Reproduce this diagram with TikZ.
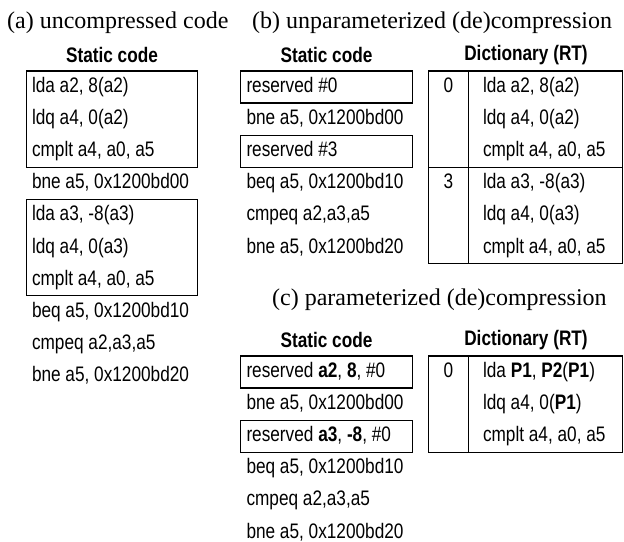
\documentclass[tikz,border=0pt]{standalone}
\usepackage{fontspec}
\setmainfont{Liberation Serif}
\newfontfamily\narrowsf{Liberation Sans}[FakeStretch=0.82]
\usepackage{tikz}
\usetikzlibrary{positioning,fit}

\begin{document}
\begin{tikzpicture}[
    x=1pt, y=-1pt,
    title/.style={anchor=west, inner sep=0pt, font=\fontsize{24}{29}\selectfont},
    header/.style={inner sep=0pt, font=\narrowsf\bfseries\fontsize{21}{25}\selectfont},
    codefont/.style={
        inner sep=0pt, text height=15pt, text depth=4pt, minimum height=31.7pt,
        font=\narrowsf\fontsize{21}{25}\selectfont
    },
    codeline/.style={codefont,
        execute at begin node={\hbox to 160pt\bgroup},
        execute at end node={\hss\egroup}},
    dictline/.style={codefont,
        execute at begin node={\hbox to 139.5pt\bgroup},
        execute at end node={\hss\egroup}},
    dictkey/.style={codefont, minimum width=39pt},
    codebox/.style={draw, line width=1.3pt, inner xsep=5.5pt, inner ysep=0pt},
    dictbox/.style={codebox, inner xsep=0pt},
    rule/.style={line width=1.3pt}
]
    \useasboundingbox (0,0) rectangle (624,541);

    % (a) uncompressed code
    \node[title] (a-title) at (7,23) {(a) uncompressed code};
    \node[header] (a-head) at (112,55.2) {Static code};
    \node[codeline] (a-l0) at (112,87) {lda a2, 8(a2)};
    \node[codeline, below=0pt of a-l0] (a-l1) {ldq a4, 0(a2)};
    \node[codeline, below=0pt of a-l1] (a-l2) {cmplt a4, a0, a5};
    \node[codeline, below=0pt of a-l2] (a-l3) {bne a5, 0x1200bd00};
    \node[codeline, below=0pt of a-l3] (a-l4) {lda a3, -8(a3)};
    \node[codeline, below=0pt of a-l4] (a-l5) {ldq a4, 0(a3)};
    \node[codeline, below=0pt of a-l5] (a-l6) {cmplt a4, a0, a5};
    \node[codeline, below=0pt of a-l6] (a-l7) {beq a5, 0x1200bd10};
    \node[codeline, below=0pt of a-l7] (a-l8) {cmpeq a2,a3,a5};
    \node[codeline, below=0pt of a-l8] (a-l9) {bne a5, 0x1200bd20};
    \node[codebox, fit=(a-l0)(a-l2)] (a-box0) {};
    \node[codebox, fit=(a-l4)(a-l6)] (a-box1) {};

    % (b) unparameterized (de)compression
    \node[title] (b-title) at (252,23) {(b) unparameterized (de)compression};
    \node[header] (b-head) at (326.5,55.2) {Static code};
    \node[codeline] (b-l0) at (326.5,87) {reserved \#0};
    \node[codeline, below=0pt of b-l0] (b-l1) {bne a5, 0x1200bd00};
    \node[codeline, below=0pt of b-l1] (b-l2) {reserved \#3};
    \node[codeline, below=0pt of b-l2] (b-l3) {beq a5, 0x1200bd10};
    \node[codeline, below=0pt of b-l3] (b-l4) {cmpeq a2,a3,a5};
    \node[codeline, below=0pt of b-l4] (b-l5) {bne a5, 0x1200bd20};
    \node[codebox, fit=(b-l0)] (b-box0) {};
    \node[codebox, fit=(b-l2)] (b-box1) {};

    \node[header] (b-dhead) at (526,55.2) {Dictionary (RT)};
    \node[dictline] (b-d0) at (552.75,87) {lda a2, 8(a2)};
    \node[dictline, below=0pt of b-d0] (b-d1) {ldq a4, 0(a2)};
    \node[dictline, below=0pt of b-d1] (b-d2) {cmplt a4, a0, a5};
    \node[dictline, below=0pt of b-d2] (b-d3) {lda a3, -8(a3)};
    \node[dictline, below=0pt of b-d3] (b-d4) {ldq a4, 0(a3)};
    \node[dictline, below=0pt of b-d4] (b-d5) {cmplt a4, a0, a5};
    \node[dictkey] (b-k0) at (448.5,87) {0};
    \node[dictkey] (b-k3) at (b-k0 |- b-d3) {3};
    \node[dictbox, fit=(b-k0)(b-d2)] (b-tab0) {};
    \node[dictbox, fit=(b-k3)(b-d5)] (b-tab1) {};
    \draw[rule] (b-k0.north east) -- (b-k0.north east |- b-tab1.south);

    % (c) parameterized (de)compression
    \node[title] (c-title) at (272,300) {(c) parameterized (de)compression};
    \node[header] (c-head) at (326.5,340) {Static code};
    \node[codeline] (c-l0) at (326.5,372) {reserved \textbf{a2}, \textbf{8}, \#0};
    \node[codeline, below=0pt of c-l0] (c-l1) {bne a5, 0x1200bd00};
    \node[codeline, below=0pt of c-l1] (c-l2) {reserved \textbf{a3}, \textbf{-8}, \#0};
    \node[codeline, below=0pt of c-l2] (c-l3) {beq a5, 0x1200bd10};
    \node[codeline, below=0pt of c-l3] (c-l4) {cmpeq a2,a3,a5};
    \node[codeline, below=0pt of c-l4] (c-l5) {bne a5, 0x1200bd20};
    \node[codebox, fit=(c-l0)] (c-box0) {};
    \node[codebox, fit=(c-l2)] (c-box1) {};

    \node[header] (c-dhead) at (526,340) {Dictionary (RT)};
    \node[dictline] (c-d0) at (552.75,372) {lda \textbf{P1}, \textbf{P2}(\textbf{P1})};
    \node[dictline, below=0pt of c-d0] (c-d1) {ldq a4, 0(\textbf{P1})};
    \node[dictline, below=0pt of c-d1] (c-d2) {cmplt a4, a0, a5};
    \node[dictkey] (c-k0) at (448.5,372) {0};
    \node[dictbox, fit=(c-k0)(c-d2)] (c-tab0) {};
    \draw[rule] (c-k0.north east) -- (c-k0.north east |- c-tab0.south);
\end{tikzpicture}
\end{document}
